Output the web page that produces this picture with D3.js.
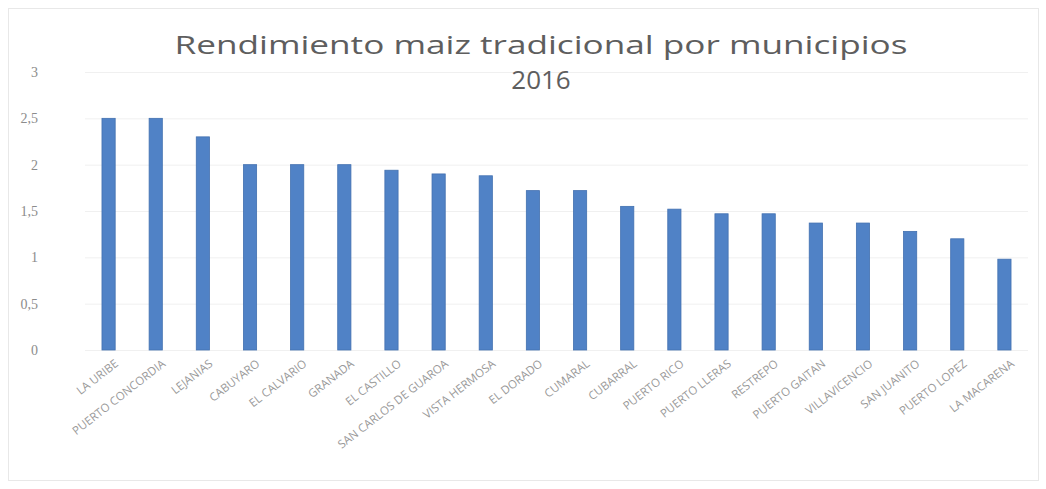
<!DOCTYPE html>
<html><head><meta charset="utf-8">
<script src="https://cdn.jsdelivr.net/npm/d3@7"></script>
<style>body{margin:0;background:#fff;} svg{display:block;}</style>
</head><body>
<svg id="c" width="1046" height="489"></svg>
<script>
const categories = ["LA URIBE","PUERTO CONCORDIA","LEJANIAS","CABUYARO","EL CALVARIO","GRANADA","EL CASTILLO","SAN CARLOS DE GUAROA","VISTA HERMOSA","EL DORADO","CUMARAL","CUBARRAL","PUERTO RICO","PUERTO LLERAS","RESTREPO","PUERTO GAITAN","VILLAVICENCIO","SAN JUANITO","PUERTO LOPEZ","LA MACARENA"];
const values = [2.5,2.5,2.3,2.0,2.0,2.0,1.94,1.9,1.88,1.72,1.72,1.55,1.52,1.47,1.47,1.37,1.37,1.28,1.2,0.98];
const yTicks = [0,0.5,1,1.5,2,2.5,3];
const titleLines = ["Rendimiento maiz tradicional por municipios","2016"];

(function(){
const svg = d3.select("#c");
const pLeft = 85, pRight = 1028, pTop = 72, pBottom = 350;
const x = d3.scaleBand().domain(categories).range([pLeft, pRight]).paddingInner(0.72).paddingOuter(0.36);
const y = d3.scaleLinear().domain([0,3]).range([pBottom, pTop]);

svg.append("rect").attr("x",8.5).attr("y",8.5).attr("width",1030).attr("height",472)
  .attr("fill","none").attr("stroke","#e8e8e8");

svg.append("g").selectAll("line").data(yTicks).join("line")
  .attr("x1",pLeft).attr("x2",pRight).attr("y1",d=>y(d)+0.5).attr("y2",d=>y(d)+0.5)
  .attr("stroke","#f0f0f0");

const yAxis = d3.axisLeft(y).tickValues(yTicks).tickSize(0).tickPadding(0)
  .tickFormat(d=>String(d).replace(".",","));
const gy = svg.append("g").attr("transform",`translate(38,0)`).call(yAxis);
gy.select(".domain").remove();
gy.selectAll("text").attr("font-family","Liberation Serif, serif").attr("font-size",14).attr("fill","#8c8c8c");

svg.append("g").selectAll("rect").data(values).join("rect")
  .attr("x",(d,i)=>x(categories[i])).attr("width",x.bandwidth())
  .attr("y",d=>y(d)).attr("height",d=>y(0)-y(d))
  .attr("fill","#5082c6").attr("stroke","#4270b0").attr("stroke-width",0.8);

const xAxis = d3.axisBottom(x).tickSize(0).tickPadding(0);
const gx = svg.append("g").attr("transform",`translate(0,${pBottom+12})`).call(xAxis);
gx.select(".domain").remove();
gx.selectAll("text").attr("font-family","Open Sans, sans-serif").attr("font-size",11.5).attr("fill","#999")
  .attr("text-anchor","end").attr("dy","0.35em")
  .attr("transform","translate(8,0) rotate(-38)");

svg.append("g").selectAll("text").data(titleLines).join("text")
  .attr("x",541).attr("y",(d,i)=>54+i*35).attr("text-anchor","middle")
  .attr("font-family","Open Sans, sans-serif").attr("font-size",26).attr("fill","#5e5e5e")
  .each(function(d,i){ if(i===0) d3.select(this).attr("textLength",733).attr("lengthAdjust","spacingAndGlyphs"); })
  .text(d=>d);
})();
</script>
</body></html>
